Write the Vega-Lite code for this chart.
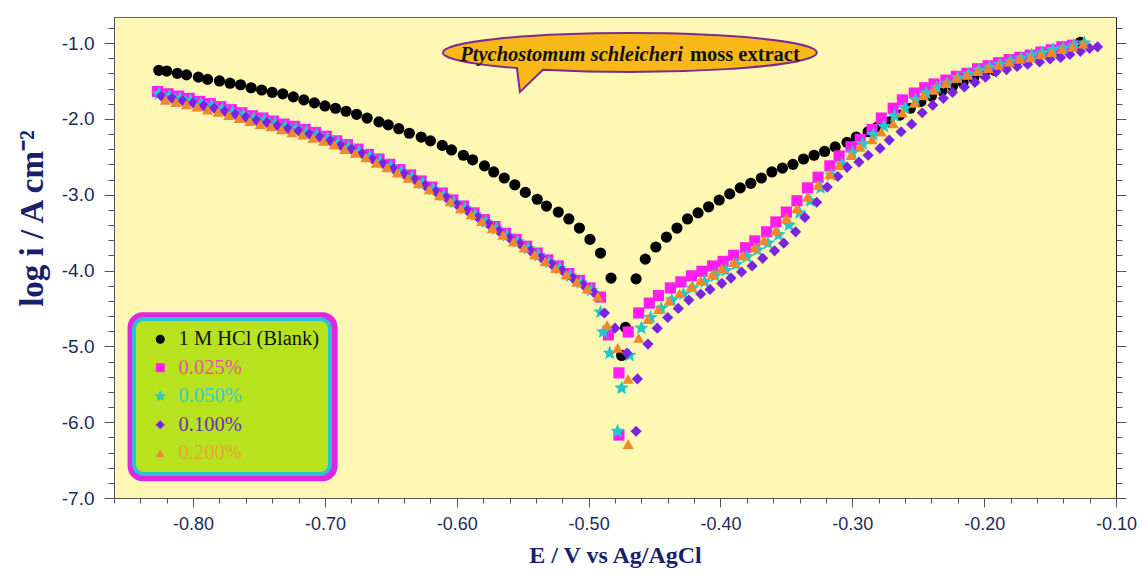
{
"$schema":"https://vega.github.io/schema/vega-lite/v6.json",
"width":1002,"height":481,
"autosize":{"type":"none"},
"padding":{"left":114,"top":17,"right":27,"bottom":85},
"background":"#ffffff",
"config":{"view":{"fill":"#FFF8B5","stroke":"#666666"},
"axis":{"labelFont":"Liberation Sans","labelFontSize":19,"labelColor":"#1c2a5c","titleFont":"Liberation Serif","titleFontWeight":"bold","titleColor":"#1a1f6b","domainColor":"#555555","tickColor":"#555555","grid":false,"labelOverlap":false,"labelFlush":false}},
"datasets":{
"names":[{"k":"B","series":"1 M HCl (Blank)"},{"k":"a","series":"0.025%"},{"k":"b","series":"0.050%"},{"k":"c","series":"0.100%"},{"k":"d","series":"0.200%"}],
"pts":[
{"k":"B","x":-0.826,"y":-1.36},{"k":"B","x":-0.820,"y":-1.37},{"k":"B","x":-0.812,"y":-1.40},{"k":"B","x":-0.805,"y":-1.42},{"k":"B","x":-0.796,"y":-1.45},{"k":"B","x":-0.789,"y":-1.48},{"k":"B","x":-0.780,"y":-1.50},{"k":"B","x":-0.772,"y":-1.53},{"k":"B","x":-0.764,"y":-1.55},{"k":"B","x":-0.756,"y":-1.59},{"k":"B","x":-0.748,"y":-1.62},{"k":"B","x":-0.740,"y":-1.65},{"k":"B","x":-0.732,"y":-1.67},{"k":"B","x":-0.724,"y":-1.71},{"k":"B","x":-0.716,"y":-1.75},{"k":"B","x":-0.708,"y":-1.79},{"k":"B","x":-0.700,"y":-1.83},{"k":"B","x":-0.692,"y":-1.86},{"k":"B","x":-0.684,"y":-1.90},{"k":"B","x":-0.676,"y":-1.94},{"k":"B","x":-0.668,"y":-1.99},{"k":"B","x":-0.659,"y":-2.04},{"k":"B","x":-0.652,"y":-2.08},{"k":"B","x":-0.644,"y":-2.13},{"k":"B","x":-0.636,"y":-2.19},{"k":"B","x":-0.627,"y":-2.24},{"k":"B","x":-0.620,"y":-2.29},{"k":"B","x":-0.611,"y":-2.35},{"k":"B","x":-0.604,"y":-2.41},{"k":"B","x":-0.595,"y":-2.48},{"k":"B","x":-0.588,"y":-2.54},{"k":"B","x":-0.579,"y":-2.62},{"k":"B","x":-0.572,"y":-2.70},{"k":"B","x":-0.564,"y":-2.78},{"k":"B","x":-0.556,"y":-2.87},{"k":"B","x":-0.548,"y":-2.97},{"k":"B","x":-0.539,"y":-3.06},{"k":"B","x":-0.532,"y":-3.15},{"k":"B","x":-0.523,"y":-3.23},{"k":"B","x":-0.515,"y":-3.32},{"k":"B","x":-0.507,"y":-3.44},{"k":"B","x":-0.499,"y":-3.59},{"k":"B","x":-0.491,"y":-3.77},{"k":"B","x":-0.483,"y":-4.10},{"k":"B","x":-0.475,"y":-5.12},{"k":"B","x":-0.472,"y":-4.75},{"k":"B","x":-0.464,"y":-4.11},{"k":"B","x":-0.457,"y":-3.85},{"k":"B","x":-0.449,"y":-3.69},{"k":"B","x":-0.441,"y":-3.56},{"k":"B","x":-0.433,"y":-3.44},{"k":"B","x":-0.425,"y":-3.32},{"k":"B","x":-0.417,"y":-3.24},{"k":"B","x":-0.409,"y":-3.16},{"k":"B","x":-0.401,"y":-3.07},{"k":"B","x":-0.393,"y":-2.99},{"k":"B","x":-0.385,"y":-2.91},{"k":"B","x":-0.377,"y":-2.85},{"k":"B","x":-0.369,"y":-2.78},{"k":"B","x":-0.361,"y":-2.70},{"k":"B","x":-0.353,"y":-2.65},{"k":"B","x":-0.345,"y":-2.60},{"k":"B","x":-0.337,"y":-2.53},{"k":"B","x":-0.329,"y":-2.48},{"k":"B","x":-0.321,"y":-2.43},{"k":"B","x":-0.313,"y":-2.37},{"k":"B","x":-0.304,"y":-2.31},{"k":"B","x":-0.297,"y":-2.24},{"k":"B","x":-0.288,"y":-2.17},{"k":"B","x":-0.281,"y":-2.11},{"k":"B","x":-0.272,"y":-2.04},{"k":"B","x":-0.264,"y":-1.95},{"k":"B","x":-0.256,"y":-1.86},{"k":"B","x":-0.248,"y":-1.77},{"k":"B","x":-0.240,"y":-1.70},{"k":"B","x":-0.232,"y":-1.63},{"k":"B","x":-0.224,"y":-1.57},{"k":"B","x":-0.216,"y":-1.52},{"k":"B","x":-0.208,"y":-1.46},{"k":"B","x":-0.200,"y":-1.41},{"k":"B","x":-0.192,"y":-1.36},{"k":"B","x":-0.184,"y":-1.30},{"k":"B","x":-0.176,"y":-1.26},{"k":"B","x":-0.168,"y":-1.22},{"k":"B","x":-0.160,"y":-1.19},{"k":"B","x":-0.152,"y":-1.15},{"k":"B","x":-0.144,"y":-1.11},{"k":"B","x":-0.136,"y":-1.07},{"k":"B","x":-0.127,"y":-0.99},
{"k":"a","x":-0.827,"y":-1.64},{"k":"a","x":-0.819,"y":-1.67},{"k":"a","x":-0.811,"y":-1.70},{"k":"a","x":-0.803,"y":-1.73},{"k":"a","x":-0.795,"y":-1.77},{"k":"a","x":-0.787,"y":-1.80},{"k":"a","x":-0.779,"y":-1.84},{"k":"a","x":-0.771,"y":-1.88},{"k":"a","x":-0.763,"y":-1.92},{"k":"a","x":-0.755,"y":-1.96},{"k":"a","x":-0.747,"y":-1.99},{"k":"a","x":-0.739,"y":-2.03},{"k":"a","x":-0.731,"y":-2.07},{"k":"a","x":-0.723,"y":-2.10},{"k":"a","x":-0.715,"y":-2.14},{"k":"a","x":-0.707,"y":-2.18},{"k":"a","x":-0.699,"y":-2.23},{"k":"a","x":-0.691,"y":-2.29},{"k":"a","x":-0.683,"y":-2.34},{"k":"a","x":-0.675,"y":-2.40},{"k":"a","x":-0.667,"y":-2.47},{"k":"a","x":-0.659,"y":-2.53},{"k":"a","x":-0.651,"y":-2.60},{"k":"a","x":-0.643,"y":-2.67},{"k":"a","x":-0.635,"y":-2.74},{"k":"a","x":-0.627,"y":-2.82},{"k":"a","x":-0.619,"y":-2.90},{"k":"a","x":-0.611,"y":-2.98},{"k":"a","x":-0.603,"y":-3.07},{"k":"a","x":-0.595,"y":-3.15},{"k":"a","x":-0.587,"y":-3.24},{"k":"a","x":-0.579,"y":-3.33},{"k":"a","x":-0.571,"y":-3.42},{"k":"a","x":-0.563,"y":-3.51},{"k":"a","x":-0.555,"y":-3.59},{"k":"a","x":-0.547,"y":-3.68},{"k":"a","x":-0.539,"y":-3.77},{"k":"a","x":-0.531,"y":-3.86},{"k":"a","x":-0.523,"y":-3.94},{"k":"a","x":-0.515,"y":-4.04},{"k":"a","x":-0.507,"y":-4.13},{"k":"a","x":-0.499,"y":-4.23},{"k":"a","x":-0.491,"y":-4.35},
{"k":"a","x":-0.485,"y":-4.85},{"k":"a","x":-0.477,"y":-5.35},{"k":"a","x":-0.477,"y":-6.17},{"k":"a","x":-0.470,"y":-4.81},
{"k":"a","x":-0.462,"y":-4.56},{"k":"a","x":-0.454,"y":-4.43},{"k":"a","x":-0.447,"y":-4.33},{"k":"a","x":-0.438,"y":-4.23},{"k":"a","x":-0.430,"y":-4.15},{"k":"a","x":-0.422,"y":-4.07},{"k":"a","x":-0.414,"y":-4.01},{"k":"a","x":-0.406,"y":-3.94},{"k":"a","x":-0.398,"y":-3.88},{"k":"a","x":-0.390,"y":-3.80},{"k":"a","x":-0.381,"y":-3.70},{"k":"a","x":-0.374,"y":-3.61},{"k":"a","x":-0.365,"y":-3.49},{"k":"a","x":-0.358,"y":-3.36},{"k":"a","x":-0.350,"y":-3.23},{"k":"a","x":-0.342,"y":-3.08},{"k":"a","x":-0.334,"y":-2.91},{"k":"a","x":-0.326,"y":-2.77},{"k":"a","x":-0.317,"y":-2.62},{"k":"a","x":-0.310,"y":-2.49},{"k":"a","x":-0.301,"y":-2.37},{"k":"a","x":-0.294,"y":-2.27},{"k":"a","x":-0.285,"y":-2.14},{"k":"a","x":-0.278,"y":-1.99},{"k":"a","x":-0.269,"y":-1.86},{"k":"a","x":-0.262,"y":-1.75},{"k":"a","x":-0.253,"y":-1.66},{"k":"a","x":-0.245,"y":-1.59},{"k":"a","x":-0.238,"y":-1.54},{"k":"a","x":-0.229,"y":-1.49},{"k":"a","x":-0.221,"y":-1.44},{"k":"a","x":-0.213,"y":-1.40},{"k":"a","x":-0.205,"y":-1.34},{"k":"a","x":-0.197,"y":-1.30},{"k":"a","x":-0.189,"y":-1.26},{"k":"a","x":-0.181,"y":-1.22},{"k":"a","x":-0.173,"y":-1.19},{"k":"a","x":-0.165,"y":-1.16},{"k":"a","x":-0.157,"y":-1.12},{"k":"a","x":-0.149,"y":-1.09},{"k":"a","x":-0.141,"y":-1.05},{"k":"a","x":-0.133,"y":-1.03},
{"k":"b","x":-0.826,"y":-1.67},{"k":"b","x":-0.818,"y":-1.70},{"k":"b","x":-0.810,"y":-1.73},{"k":"b","x":-0.802,"y":-1.76},{"k":"b","x":-0.794,"y":-1.80},{"k":"b","x":-0.786,"y":-1.83},{"k":"b","x":-0.778,"y":-1.87},{"k":"b","x":-0.770,"y":-1.91},{"k":"b","x":-0.762,"y":-1.95},{"k":"b","x":-0.754,"y":-1.99},{"k":"b","x":-0.746,"y":-2.02},{"k":"b","x":-0.738,"y":-2.06},{"k":"b","x":-0.730,"y":-2.10},{"k":"b","x":-0.722,"y":-2.13},{"k":"b","x":-0.714,"y":-2.17},{"k":"b","x":-0.706,"y":-2.21},{"k":"b","x":-0.698,"y":-2.26},{"k":"b","x":-0.690,"y":-2.32},{"k":"b","x":-0.682,"y":-2.37},{"k":"b","x":-0.674,"y":-2.43},{"k":"b","x":-0.666,"y":-2.50},{"k":"b","x":-0.658,"y":-2.56},{"k":"b","x":-0.650,"y":-2.63},{"k":"b","x":-0.642,"y":-2.70},{"k":"b","x":-0.634,"y":-2.77},{"k":"b","x":-0.626,"y":-2.85},{"k":"b","x":-0.618,"y":-2.93},{"k":"b","x":-0.610,"y":-3.01},{"k":"b","x":-0.602,"y":-3.10},{"k":"b","x":-0.594,"y":-3.18},{"k":"b","x":-0.586,"y":-3.27},{"k":"b","x":-0.578,"y":-3.36},{"k":"b","x":-0.570,"y":-3.45},{"k":"b","x":-0.562,"y":-3.54},{"k":"b","x":-0.554,"y":-3.62},{"k":"b","x":-0.546,"y":-3.71},{"k":"b","x":-0.538,"y":-3.80},{"k":"b","x":-0.530,"y":-3.89},{"k":"b","x":-0.522,"y":-3.97},{"k":"b","x":-0.514,"y":-4.07},{"k":"b","x":-0.506,"y":-4.16},{"k":"b","x":-0.498,"y":-4.26},
{"k":"b","x":-0.491,"y":-4.55},{"k":"b","x":-0.489,"y":-4.81},{"k":"b","x":-0.484,"y":-5.09},{"k":"b","x":-0.478,"y":-6.12},{"k":"b","x":-0.475,"y":-5.55},{"k":"b","x":-0.469,"y":-5.12},{"k":"b","x":-0.460,"y":-4.76},
{"k":"b","x":-0.453,"y":-4.62},{"k":"b","x":-0.445,"y":-4.50},{"k":"b","x":-0.437,"y":-4.39},{"k":"b","x":-0.428,"y":-4.31},{"k":"b","x":-0.421,"y":-4.23},{"k":"b","x":-0.412,"y":-4.15},{"k":"b","x":-0.404,"y":-4.07},{"k":"b","x":-0.396,"y":-4.00},{"k":"b","x":-0.388,"y":-3.92},{"k":"b","x":-0.380,"y":-3.82},{"k":"b","x":-0.372,"y":-3.73},{"k":"b","x":-0.364,"y":-3.64},{"k":"b","x":-0.356,"y":-3.53},{"k":"b","x":-0.348,"y":-3.40},{"k":"b","x":-0.340,"y":-3.24},{"k":"b","x":-0.332,"y":-3.08},{"k":"b","x":-0.324,"y":-2.91},{"k":"b","x":-0.316,"y":-2.74},{"k":"b","x":-0.308,"y":-2.60},{"k":"b","x":-0.300,"y":-2.45},{"k":"b","x":-0.292,"y":-2.33},{"k":"b","x":-0.284,"y":-2.21},{"k":"b","x":-0.276,"y":-2.10},{"k":"b","x":-0.268,"y":-1.96},{"k":"b","x":-0.260,"y":-1.86},{"k":"b","x":-0.252,"y":-1.75},{"k":"b","x":-0.244,"y":-1.66},{"k":"b","x":-0.236,"y":-1.59},{"k":"b","x":-0.228,"y":-1.53},{"k":"b","x":-0.220,"y":-1.46},{"k":"b","x":-0.212,"y":-1.41},{"k":"b","x":-0.204,"y":-1.36},{"k":"b","x":-0.196,"y":-1.32},{"k":"b","x":-0.188,"y":-1.28},{"k":"b","x":-0.180,"y":-1.24},{"k":"b","x":-0.172,"y":-1.20},{"k":"b","x":-0.164,"y":-1.16},{"k":"b","x":-0.156,"y":-1.13},{"k":"b","x":-0.148,"y":-1.09},{"k":"b","x":-0.140,"y":-1.07},{"k":"b","x":-0.132,"y":-1.03},{"k":"b","x":-0.124,"y":-1.00},
{"k":"c","x":-0.824,"y":-1.70},{"k":"c","x":-0.816,"y":-1.73},{"k":"c","x":-0.808,"y":-1.76},{"k":"c","x":-0.800,"y":-1.79},{"k":"c","x":-0.792,"y":-1.83},{"k":"c","x":-0.784,"y":-1.86},{"k":"c","x":-0.776,"y":-1.90},{"k":"c","x":-0.768,"y":-1.94},{"k":"c","x":-0.760,"y":-1.98},{"k":"c","x":-0.752,"y":-2.02},{"k":"c","x":-0.744,"y":-2.05},{"k":"c","x":-0.736,"y":-2.09},{"k":"c","x":-0.728,"y":-2.13},{"k":"c","x":-0.720,"y":-2.16},{"k":"c","x":-0.712,"y":-2.20},{"k":"c","x":-0.704,"y":-2.24},{"k":"c","x":-0.696,"y":-2.29},{"k":"c","x":-0.688,"y":-2.35},{"k":"c","x":-0.680,"y":-2.40},{"k":"c","x":-0.672,"y":-2.46},{"k":"c","x":-0.664,"y":-2.53},{"k":"c","x":-0.656,"y":-2.59},{"k":"c","x":-0.648,"y":-2.66},{"k":"c","x":-0.640,"y":-2.73},{"k":"c","x":-0.632,"y":-2.80},{"k":"c","x":-0.624,"y":-2.88},{"k":"c","x":-0.616,"y":-2.96},{"k":"c","x":-0.608,"y":-3.04},{"k":"c","x":-0.600,"y":-3.13},{"k":"c","x":-0.592,"y":-3.21},{"k":"c","x":-0.584,"y":-3.30},{"k":"c","x":-0.576,"y":-3.39},{"k":"c","x":-0.568,"y":-3.48},{"k":"c","x":-0.560,"y":-3.57},{"k":"c","x":-0.552,"y":-3.65},{"k":"c","x":-0.544,"y":-3.74},{"k":"c","x":-0.536,"y":-3.83},{"k":"c","x":-0.528,"y":-3.92},{"k":"c","x":-0.520,"y":-4.00},{"k":"c","x":-0.512,"y":-4.10},{"k":"c","x":-0.504,"y":-4.19},{"k":"c","x":-0.496,"y":-4.29},
{"k":"c","x":-0.488,"y":-4.56},{"k":"c","x":-0.480,"y":-4.76},{"k":"c","x":-0.471,"y":-5.09},{"k":"c","x":-0.463,"y":-5.43},{"k":"c","x":-0.464,"y":-6.12},{"k":"c","x":-0.455,"y":-4.97},
{"k":"c","x":-0.448,"y":-4.76},{"k":"c","x":-0.440,"y":-4.62},{"k":"c","x":-0.432,"y":-4.50},{"k":"c","x":-0.424,"y":-4.39},{"k":"c","x":-0.415,"y":-4.31},{"k":"c","x":-0.408,"y":-4.25},{"k":"c","x":-0.399,"y":-4.17},{"k":"c","x":-0.392,"y":-4.10},{"k":"c","x":-0.384,"y":-4.02},{"k":"c","x":-0.376,"y":-3.94},{"k":"c","x":-0.368,"y":-3.84},{"k":"c","x":-0.359,"y":-3.74},{"k":"c","x":-0.352,"y":-3.64},{"k":"c","x":-0.343,"y":-3.49},{"k":"c","x":-0.336,"y":-3.30},{"k":"c","x":-0.327,"y":-3.10},{"k":"c","x":-0.319,"y":-2.90},{"k":"c","x":-0.311,"y":-2.76},{"k":"c","x":-0.304,"y":-2.64},{"k":"c","x":-0.295,"y":-2.57},{"k":"c","x":-0.288,"y":-2.48},{"k":"c","x":-0.279,"y":-2.39},{"k":"c","x":-0.272,"y":-2.28},{"k":"c","x":-0.263,"y":-2.17},{"k":"c","x":-0.255,"y":-2.07},{"k":"c","x":-0.247,"y":-1.92},{"k":"c","x":-0.239,"y":-1.82},{"k":"c","x":-0.231,"y":-1.73},{"k":"c","x":-0.224,"y":-1.65},{"k":"c","x":-0.215,"y":-1.58},{"k":"c","x":-0.207,"y":-1.52},{"k":"c","x":-0.199,"y":-1.45},{"k":"c","x":-0.191,"y":-1.38},{"k":"c","x":-0.183,"y":-1.35},{"k":"c","x":-0.175,"y":-1.31},{"k":"c","x":-0.167,"y":-1.28},{"k":"c","x":-0.158,"y":-1.25},{"k":"c","x":-0.150,"y":-1.21},{"k":"c","x":-0.142,"y":-1.19},{"k":"c","x":-0.135,"y":-1.15},{"k":"c","x":-0.127,"y":-1.11},{"k":"c","x":-0.120,"y":-1.07},{"k":"c","x":-0.114,"y":-1.05},
{"k":"d","x":-0.821,"y":-1.75},{"k":"d","x":-0.813,"y":-1.78},{"k":"d","x":-0.805,"y":-1.81},{"k":"d","x":-0.797,"y":-1.84},{"k":"d","x":-0.789,"y":-1.88},{"k":"d","x":-0.781,"y":-1.91},{"k":"d","x":-0.773,"y":-1.95},{"k":"d","x":-0.765,"y":-1.99},{"k":"d","x":-0.757,"y":-2.03},{"k":"d","x":-0.749,"y":-2.07},{"k":"d","x":-0.741,"y":-2.10},{"k":"d","x":-0.733,"y":-2.14},{"k":"d","x":-0.725,"y":-2.18},{"k":"d","x":-0.717,"y":-2.21},{"k":"d","x":-0.709,"y":-2.25},{"k":"d","x":-0.701,"y":-2.29},{"k":"d","x":-0.693,"y":-2.34},{"k":"d","x":-0.685,"y":-2.40},{"k":"d","x":-0.677,"y":-2.45},{"k":"d","x":-0.669,"y":-2.51},{"k":"d","x":-0.661,"y":-2.58},{"k":"d","x":-0.653,"y":-2.64},{"k":"d","x":-0.645,"y":-2.71},{"k":"d","x":-0.637,"y":-2.78},{"k":"d","x":-0.629,"y":-2.85},{"k":"d","x":-0.621,"y":-2.93},{"k":"d","x":-0.613,"y":-3.01},{"k":"d","x":-0.605,"y":-3.09},{"k":"d","x":-0.597,"y":-3.18},{"k":"d","x":-0.589,"y":-3.26},{"k":"d","x":-0.581,"y":-3.35},{"k":"d","x":-0.573,"y":-3.44},{"k":"d","x":-0.565,"y":-3.53},{"k":"d","x":-0.557,"y":-3.62},{"k":"d","x":-0.549,"y":-3.70},{"k":"d","x":-0.541,"y":-3.79},{"k":"d","x":-0.533,"y":-3.88},{"k":"d","x":-0.525,"y":-3.97},{"k":"d","x":-0.517,"y":-4.05},{"k":"d","x":-0.509,"y":-4.15},{"k":"d","x":-0.501,"y":-4.24},{"k":"d","x":-0.493,"y":-4.34},
{"k":"d","x":-0.486,"y":-4.72},{"k":"d","x":-0.478,"y":-5.02},{"k":"d","x":-0.470,"y":-5.43},{"k":"d","x":-0.470,"y":-6.29},{"k":"d","x":-0.462,"y":-4.89},
{"k":"d","x":-0.455,"y":-4.64},{"k":"d","x":-0.447,"y":-4.51},{"k":"d","x":-0.439,"y":-4.40},{"k":"d","x":-0.431,"y":-4.30},{"k":"d","x":-0.422,"y":-4.21},{"k":"d","x":-0.415,"y":-4.13},{"k":"d","x":-0.406,"y":-4.05},{"k":"d","x":-0.399,"y":-3.97},{"k":"d","x":-0.390,"y":-3.89},{"k":"d","x":-0.383,"y":-3.80},{"k":"d","x":-0.374,"y":-3.70},{"k":"d","x":-0.367,"y":-3.60},{"k":"d","x":-0.358,"y":-3.47},{"k":"d","x":-0.350,"y":-3.31},{"k":"d","x":-0.342,"y":-3.18},{"k":"d","x":-0.334,"y":-3.03},{"k":"d","x":-0.326,"y":-2.87},{"k":"d","x":-0.317,"y":-2.73},{"k":"d","x":-0.310,"y":-2.61},{"k":"d","x":-0.301,"y":-2.48},{"k":"d","x":-0.294,"y":-2.37},{"k":"d","x":-0.285,"y":-2.27},{"k":"d","x":-0.278,"y":-2.17},{"k":"d","x":-0.269,"y":-2.06},{"k":"d","x":-0.262,"y":-1.92},{"k":"d","x":-0.253,"y":-1.79},{"k":"d","x":-0.246,"y":-1.69},{"k":"d","x":-0.238,"y":-1.62},{"k":"d","x":-0.229,"y":-1.53},{"k":"d","x":-0.221,"y":-1.46},{"k":"d","x":-0.213,"y":-1.42},{"k":"d","x":-0.205,"y":-1.37},{"k":"d","x":-0.197,"y":-1.33},{"k":"d","x":-0.189,"y":-1.29},{"k":"d","x":-0.181,"y":-1.25},{"k":"d","x":-0.173,"y":-1.21},{"k":"d","x":-0.165,"y":-1.19},{"k":"d","x":-0.157,"y":-1.15},{"k":"d","x":-0.149,"y":-1.12},{"k":"d","x":-0.141,"y":-1.08},{"k":"d","x":-0.133,"y":-1.05},{"k":"d","x":-0.125,"y":-1.01}
]},
"layer":[
{"data":{"name":"pts"},
"transform":[{"lookup":"k","from":{"data":{"name":"names"},"key":"k","fields":["series"]}}],
"mark":{"type":"point","filled":true,"size":125,"opacity":1,"strokeWidth":0},
"encoding":{
"x":{"field":"x","type":"quantitative","scale":{"domain":[-0.86,-0.1],"nice":false,"zero":false},
"axis":{"orient":"bottom","labelOverlap":false,"labelFontSize":18,"values":[-0.86,-0.84,-0.82,-0.8,-0.78,-0.76,-0.74,-0.72,-0.7,-0.68,-0.66,-0.64,-0.62,-0.6,-0.58,-0.56,-0.54,-0.52,-0.5,-0.48,-0.46,-0.44,-0.42,-0.4,-0.38,-0.36,-0.34,-0.32,-0.3,-0.28,-0.26,-0.24,-0.22,-0.2,-0.18,-0.16,-0.14,-0.12,-0.1],
"labelExpr":"abs(datum.value*10-round(datum.value*10))<0.001 ? replace(format(datum.value,'.2f'),'\u2212','-') : ''",
"tickSize":{"condition":{"test":"abs(datum.value*10-round(datum.value*10))<0.001","value":9},"value":5},
"labelPadding":8,"title":"E / V vs Ag/AgCl","titleFontSize":24,"titlePadding":10}},
"y":{"field":"y","type":"quantitative","scale":{"domain":[-7,-0.657],"nice":false,"zero":false},
"axis":{"orient":"left","labelOverlap":false,"values":[-7,-6.8,-6.6,-6.4,-6.2,-6,-5.8,-5.6,-5.4,-5.2,-5,-4.8,-4.6,-4.4,-4.2,-4,-3.8,-3.6,-3.4,-3.2,-3,-2.8,-2.6,-2.4,-2.2,-2,-1.8,-1.6,-1.4,-1.2,-1,-0.8],
"labelExpr":"abs(datum.value-round(datum.value))<0.001 ? replace(format(datum.value,'.1f'),'\u2212','-') : ''",
"tickSize":{"condition":{"test":"abs(datum.value-round(datum.value))<0.001","value":10},"value":6},
"labelPadding":10,"title":"log i / A cm⁻²","titleFontSize":33,"titlePadding":12,"titleY":201}},
"color":{"field":"series","type":"nominal","scale":{"domain":["1 M HCl (Blank)","0.025%","0.050%","0.100%","0.200%"],"range":["#000000","#FF1EF2","#26C6CA","#7C22E2","#F0892A"]},
"legend":{"title":null,"orient":"none","legendX":20,"legendY":302,"padding":10,"rowPadding":7.5,"symbolSize":80,"symbolOffset":6,"labelOffset":8,"labelFont":"Liberation Serif","labelFontSize":20.5,"labelLimit":300,"fillColor":"#B6E31E","strokeColor":"#2EC0D8","cornerRadius":10,"symbolStrokeWidth":0,
"encoding":{"legend":{"strokeWidth":{"value":4}},"labels":{"fill":{"condition":[{"test":"datum.label==='0.025%'","value":"#E4589B"},{"test":"datum.label==='0.050%'","value":"#3CC8CC"},{"test":"datum.label==='0.100%'","value":"#6F2FB0"},{"test":"datum.label==='0.200%'","value":"#F0A23A"}],"value":"#111111"}}}}},
"shape":{"field":"series","type":"nominal","scale":{"domain":["1 M HCl (Blank)","0.025%","0.050%","0.100%","0.200%"],"range":["circle","square","M0,-1.35L0.357,-0.491L1.284,-0.417L0.578,0.188L0.794,1.092L0,0.608L-0.794,1.092L-0.578,0.188L-1.284,-0.417L-0.357,-0.491Z","diamond","triangle-up"]}}
}},
{"data":{"values":[{}]},
"mark":{"type":"point","shape":"M-1,0A1,0.104 0 0,1 1,0A1,0.104 0 0,1 -0.465,0.092L-0.588,0.211L-0.604,0.083A1,0.104 0 0,1 -1,0Z","size":139876,"filled":true,"fill":"#F8B818","stroke":"#7B2B8F","strokeWidth":2,"opacity":1},
"encoding":{"x":{"datum":-0.4687,"type":"quantitative","axis":null},"y":{"datum":-1.125,"type":"quantitative",
"axis":{"labels":false,"values":[-7,-6.8,-6.6,-6.4,-6.2,-6,-5.8,-5.6,-5.4,-5.2,-5,-4.8,-4.6,-4.4,-4.2,-4,-3.8,-3.6,-3.4,-3.2,-3,-2.8,-2.6,-2.4,-2.2,-2,-1.8,-1.6,-1.4,-1.2,-1,-0.8],"title":"","domainColor":"#222222",
"tickSize":{"condition":{"test":"abs(datum.value-round(datum.value))<0.001","value":10},"value":6}}}}},
{"data":{"values":[{}]},
"mark":{"type":"rect","fill":"#E026E0","cornerRadius":15},
"encoding":{"x":{"datum":-0.8497,"type":"quantitative","axis":null},"x2":{"datum":-0.6904},"y":{"datum":-4.549,"type":"quantitative","axis":null},"y2":{"datum":-6.778}}},
{"data":{"values":[{}]},
"mark":{"type":"text","text":"Ptychostomum schleicheri","align":"right","baseline":"middle","font":"Liberation Serif","fontSize":20.5,"fontStyle":"italic","fontWeight":"bold","color":"#111111"},
"encoding":{"x":{"datum":-0.4285,"type":"quantitative","axis":null},"y":{"datum":-1.158,"type":"quantitative","axis":null}}},
{"data":{"values":[{}]},
"mark":{"type":"text","text":"moss extract","align":"left","baseline":"middle","font":"Liberation Serif","fontSize":20.5,"fontWeight":"bold","color":"#111111"},
"encoding":{"x":{"datum":-0.4232,"type":"quantitative","axis":null},"y":{"datum":-1.158,"type":"quantitative","axis":null}}}
],
"resolve":{"axis":{"x":"independent","y":"independent"}}
}
